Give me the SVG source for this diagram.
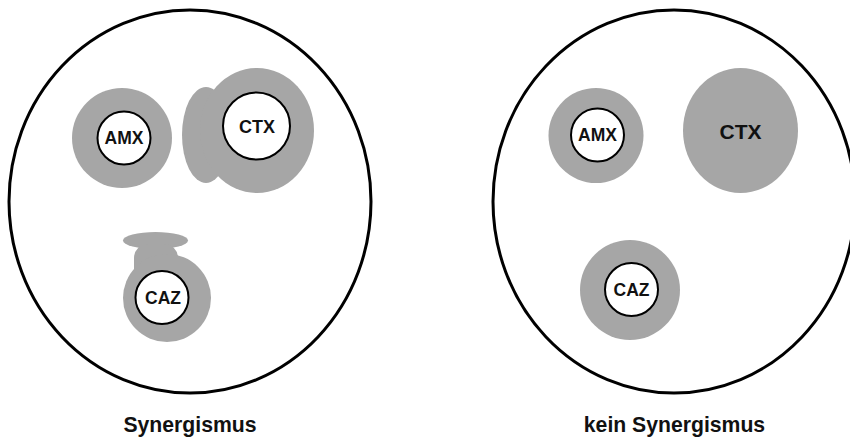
<svg xmlns="http://www.w3.org/2000/svg" width="850" height="441" viewBox="0 0 850 441">
<style>
.dish{fill:#fff;stroke:#000;stroke-width:3}
.halo{fill:#a6a6a6}
.disc{fill:#fff;stroke:#000;stroke-width:2}
.lbl{font-family:"Liberation Sans",Arial,sans-serif;font-weight:bold;fill:#111;text-anchor:middle}
.cap{font-family:"Liberation Sans",Arial,sans-serif;font-weight:bold;fill:#111;text-anchor:middle;font-size:21.2px}
</style>
<rect width="850" height="441" fill="#fff"/>
<g id="plate-left">
<ellipse class="dish" cx="190" cy="201.5" rx="181" ry="191.5"/>
<text class="cap" x="190" y="432">Synergismus</text>
</g>
<g id="plate-right">
<ellipse class="dish" cx="674" cy="201.5" rx="181" ry="191.5"/>
<text class="cap" x="674.5" y="432">kein Synergismus</text>
</g>
<g id="amx-left">
<circle class="halo" cx="122" cy="138" r="50"/>
<circle class="disc" cx="124" cy="138" r="26.5"/>
<text class="lbl" x="124" y="144" font-size="17.5">AMX</text>
</g>
<g id="ctx-left">
<ellipse class="halo" cx="206" cy="135" rx="24" ry="48"/>
<ellipse class="halo" cx="257" cy="130.5" rx="57" ry="62.5"/>
<circle class="disc" cx="256.5" cy="126" r="33.5"/>
<text class="lbl" x="257" y="133" font-size="18">CTX</text>
</g>
<g id="caz-left">
<ellipse class="halo" cx="155.5" cy="240.5" rx="32.5" ry="8.5"/>
<rect class="halo" x="134" y="244" width="44" height="50" rx="14"/>
<circle class="halo" cx="167" cy="298" r="44"/>
<circle class="disc" cx="162" cy="297.5" r="26.5"/>
<text class="lbl" x="163" y="304" font-size="17.5">CAZ</text>
</g>
<g id="amx-right">
<circle class="halo" cx="596" cy="135.5" r="47.5"/>
<circle class="disc" cx="597.5" cy="135" r="26.5"/>
<text class="lbl" x="597.5" y="141" font-size="17.5">AMX</text>
</g>
<g id="ctx-right">
<ellipse class="halo" cx="740.5" cy="130.5" rx="57.5" ry="62.5"/>
<text class="lbl" x="740.5" y="139" font-size="21">CTX</text>
</g>
<g id="caz-right">
<circle class="halo" cx="630" cy="290" r="50"/>
<circle class="disc" cx="631.5" cy="289.5" r="26.5"/>
<text class="lbl" x="631.5" y="296" font-size="17.5">CAZ</text>
</g>
<g id="connectors"/>
</svg>
